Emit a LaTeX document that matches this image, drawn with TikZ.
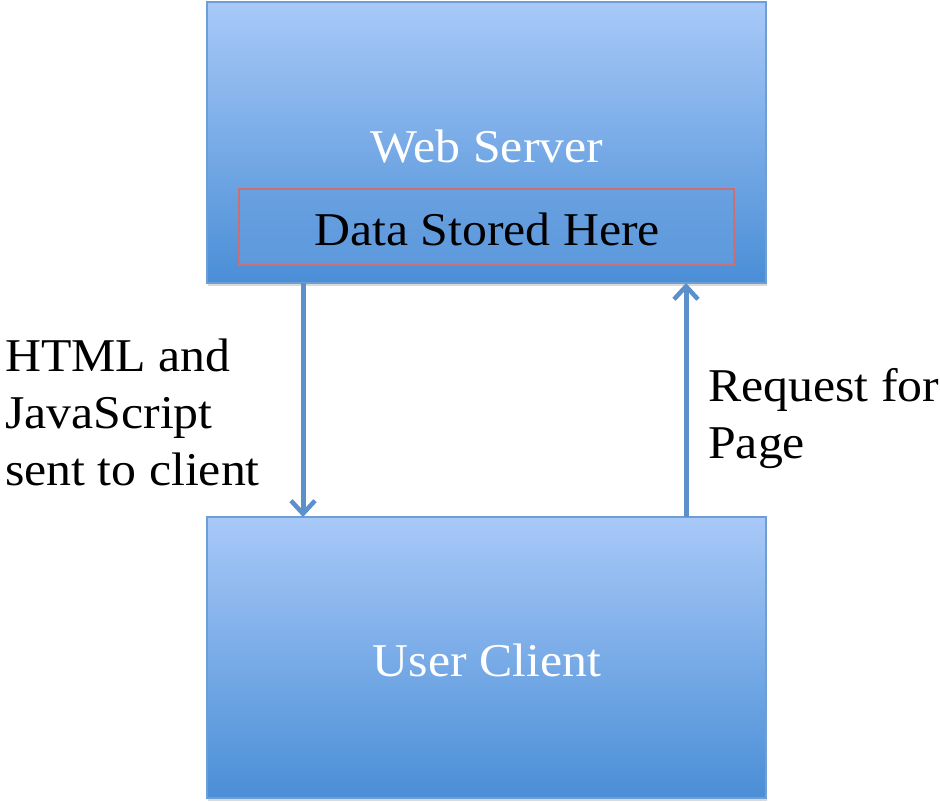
\documentclass[tikz,border=0pt]{standalone}
\usepackage{fontspec}
\setmainfont[FakeStretch=1.06]{Liberation Serif}
\usetikzlibrary{arrows.meta,shadows}

\definecolor{boxtop}{RGB}{168,201,248}
\definecolor{boxbottom}{RGB}{74,142,214}
\definecolor{boxedge}{RGB}{110,158,212}
\definecolor{innerfill}{RGB}{104,160,224}
\definecolor{inneredge}{RGB}{200,112,118}
\definecolor{flow}{RGB}{92,144,205}

\tikzset{
  tier/.style={draw=boxedge, line width=1.2pt, top color=boxtop, bottom color=boxbottom,
    drop shadow={shadow xshift=1pt, shadow yshift=-3pt, opacity=0.3}},
  store/.style={draw=inneredge, line width=1.2pt, fill=innerfill, fill opacity=0.55},
  whitetext/.style={text=white, font=\fontsize{47}{57}\selectfont, inner sep=0pt, anchor=base},
  darktext/.style={text=black, font=\fontsize{47}{57}\selectfont, inner sep=0pt},
  flowarrow/.style={draw=flow, line width=5pt,
    -{Straight Barb[length=13pt, width=24pt, line width=4.5pt]}}
}

\begin{document}
\begin{tikzpicture}[x=1pt, y=-1pt]
  \useasboundingbox (0,0) rectangle (940,802);

  % server and client boxes
  \path[tier] (207,2) rectangle (766,283);
  \path[tier] (207,517) rectangle (766,798);
  \coordinate (srvS1) at (303,283);
  \coordinate (srvS2) at (686,283);
  \coordinate (cliN1) at (303,517);
  \coordinate (cliN2) at (686,517);

  % storage strip inside the server
  \path[store] (239,189) rectangle (734,265);

  \node[whitetext] (server) at (487,163) {Web Server};
  \node[darktext, anchor=base] (data) at (487,246) {Data Stored Here};
  \node[whitetext] (client) at (487,676) {User Client};

  % traffic between client and server
  \draw[flowarrow] (srvS1) -- (cliN1);
  \draw[flowarrow] (cliN2) -- (srvS2);

  \node[darktext, anchor=north west, align=left] (sent) at (5,339)
    {HTML and\\JavaScript\\sent to client};
  \node[darktext, anchor=north west, align=left] (req) at (708,368)
    {Request for\\Page};
\end{tikzpicture}
\end{document}
